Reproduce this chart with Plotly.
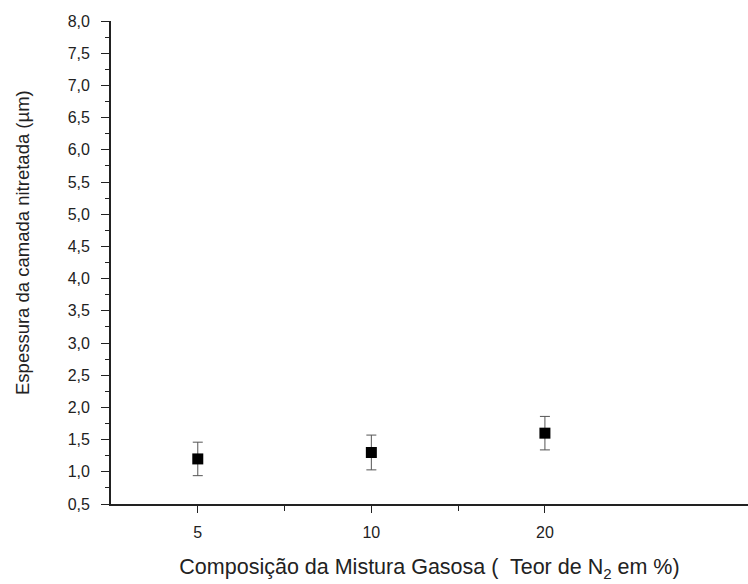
import plotly.graph_objects as go

# Nitrided layer thickness vs. N2 content of the gas mixture
composicao = ["5", "10", "20"]
espessura = [1.2, 1.3, 1.6]
erro = [0.26, 0.27, 0.26]
posicao = [1, 2, 3]

fig = go.Figure()
fig.add_trace(go.Scatter(
    x=posicao, y=espessura,
    mode="markers",
    marker=dict(symbol="square", size=11, color="black"),
    error_y=dict(type="data", array=erro, visible=True,
                 color="#555", thickness=1, width=5),
    showlegend=False,
))

font = dict(family="Liberation Sans, Arial, sans-serif", color="#222")

# plot area in pixels: left 111, right 748, top 21, bottom 504
W, H = 748, 584
L, R, T, B = 111, 0, 21, 80
pw, ph = W - L - R, H - T - B

fig.update_layout(
    width=W, height=H,
    margin=dict(l=L, r=R, t=T, b=B),
    paper_bgcolor="white", plot_bgcolor="white",
    separators=",.",
    font=font,
    xaxis=dict(
        range=[0.5, 4.17],
        tickmode="array", tickvals=posicao, ticktext=composicao,
        ticks="outside", ticklen=7, tickwidth=1.3, tickcolor="#222",
        minor=dict(tickvals=[1.5, 2.5], ticks="outside", ticklen=5,
                   tickcolor="#222"),
        showline=True, linecolor="#222", linewidth=1.8,
        showgrid=False, zeroline=False,
        ticklabelstandoff=6,
        tickfont=dict(size=16, color="#222"),
        title=dict(text="Composição da Mistura Gasosa (  Teor de N<sub>2</sub> em %)",
                   font=dict(size=21.5, color="#222"), standoff=19),
    ),
    yaxis=dict(
        range=[0.5, 8.0],
        tickmode="linear", tick0=0.5, dtick=0.5, tickformat=".1f",
        ticks="outside", ticklen=8, tickwidth=1.3, tickcolor="#222",
        minor=dict(dtick=0.25, tick0=0.5, ticks="outside", ticklen=4,
                   tickcolor="#222"),
        showline=True, linecolor="#222", linewidth=1.8,
        showgrid=False, zeroline=False,
        ticklabelstandoff=8,
        tickfont=dict(size=16, color="#222"),
    ),
    annotations=[dict(
        text="Espessura da camada nitretada (µm)",
        textangle=-90, showarrow=False,
        xref="paper", yref="paper",
        x=(22 - L) / pw, y=(T + ph - 243) / ph,
        xanchor="center", yanchor="middle",
        font=dict(size=18.5, color="#222"),
    )],
)

fig.write_html("out.html")
